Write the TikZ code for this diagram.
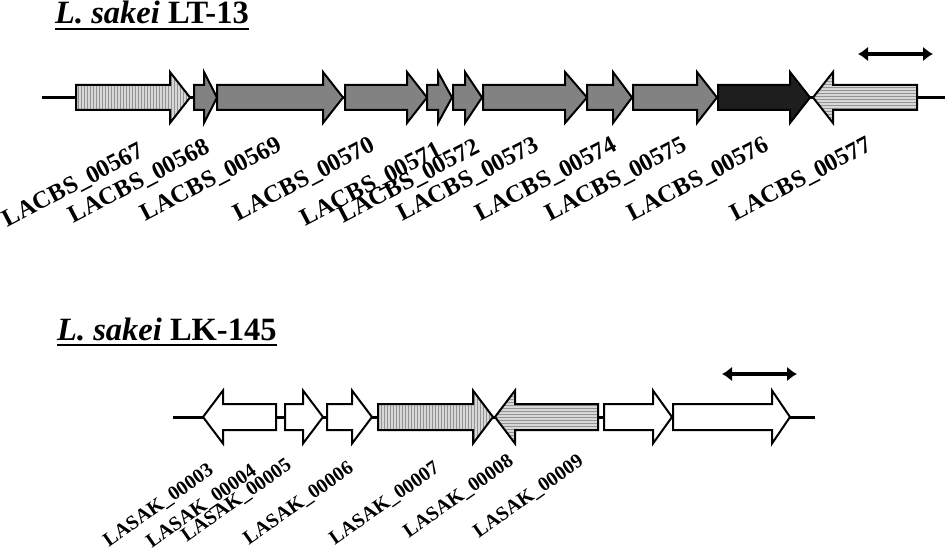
\documentclass[tikz,border=0pt]{standalone}
\usepackage{fontspec}
\setmainfont{Liberation Serif}
\usetikzlibrary{patterns,arrows.meta}
\definecolor{midgray}{RGB}{130,130,130}
\definecolor{darkgene}{RGB}{30,30,30}
\definecolor{lightgene}{RGB}{215,215,215}
\newcommand{\yc}{0}
\newcommand{\bh}{0}
\newcommand{\hh}{0}
\newcommand{\rgene}[5]{%
  \draw[gene,#2] (#3,\yc-\bh) -- (#4,\yc-\bh) -- (#4,\yc-\hh) -- (#5,\yc) -- (#4,\yc+\hh) -- (#4,\yc+\bh) -- (#3,\yc+\bh) -- cycle;
  \coordinate (#1) at ({(#3+#5)/2},\yc);}
\newcommand{\lgene}[5]{%
  \draw[gene,#2] (#3,\yc) -- (#4,\yc-\hh) -- (#4,\yc-\bh) -- (#5,\yc-\bh) -- (#5,\yc+\bh) -- (#4,\yc+\bh) -- (#4,\yc+\hh) -- cycle;
  \coordinate (#1) at ({(#3+#5)/2},\yc);}
\begin{document}
\begin{tikzpicture}[x=1pt,y=-1pt,
  gene/.style={draw=black,line width=2pt,line join=miter,fill=white},
  vfill/.style={preaction={fill=lightgene},pattern=vertical lines,pattern color=gray!85},
  hfill/.style={preaction={fill=lightgene},pattern=horizontal lines,pattern color=gray!85},
  midfill/.style={fill=midgray},
  darkfill/.style={fill=darkgene},
  plain/.style={fill=white},
  backbone/.style={line width=3pt},
  span/.style={line width=3.5pt,{Latex[length=10pt,width=15pt]}-{Latex[length=10pt,width=15pt]}},
  lab1/.style={anchor=north east,rotate=27.5,inner sep=0pt,font=\fontsize{24.5}{28}\selectfont\bfseries},
  lab2/.style={anchor=north east,rotate=35,inner sep=0pt,font=\fontsize{20}{24}\selectfont\bfseries},
  ttl/.style={anchor=base west,inner sep=0pt,font=\fontsize{32.5}{36}\selectfont\bfseries}
]
\useasboundingbox (0,0) rectangle (950,559);

% ---------- Track 1 ----------
\node[ttl] (t1) at (55,24) {\textit{L. sakei} LT-13};
\draw[line width=1.6pt] ([yshift=-5pt]t1.base west) -- ([yshift=-5pt]t1.base east);

\coordinate (b1s) at (42,97.5);
\coordinate (b1e) at (945,97.5);
\draw[backbone] (b1s) -- (b1e);

\renewcommand{\yc}{97.5}\renewcommand{\bh}{12.5}\renewcommand{\hh}{25.5}
\rgene{g567}{vfill}{76}{170}{190}
\rgene{g568}{midfill}{194}{204}{217}
\rgene{g569}{midfill}{217}{323}{343}
\rgene{g570}{midfill}{345}{407}{427}
\rgene{g571}{midfill}{427}{438}{452}
\rgene{g572}{midfill}{453}{465}{482}
\rgene{g573}{midfill}{483}{565}{587}
\rgene{g574}{midfill}{587}{613}{632}
\rgene{g575}{midfill}{633}{697}{717}
\rgene{g576}{darkfill}{718}{790}{810}
\lgene{g577}{hfill}{813}{833}{917}

\coordinate (s1a) at (858,54);
\coordinate (s1b) at (933,54);
\draw[span] (s1a) -- (s1b);

\node[lab1] (l567) at (138,141) {LACBS\_00567};
\node[lab1] (l568) at (204,137) {LACBS\_00568};
\node[lab1] (l569) at (276,135) {LACBS\_00569};
\node[lab1] (l570) at (369,135) {LACBS\_00570};
\node[lab1] (l571) at (436,140) {LACBS\_00571};
\node[lab1] (l572) at (474,137) {LACBS\_00572};
\node[lab1] (l573) at (533,135) {LACBS\_00573};
\node[lab1] (l574) at (611,135) {LACBS\_00574};
\node[lab1] (l575) at (681,135) {LACBS\_00575};
\node[lab1] (l576) at (763,135) {LACBS\_00576};
\node[lab1] (l577) at (866,135) {LACBS\_00577};

% ---------- Track 2 ----------
\node[ttl] (t2) at (57,340) {\textit{L. sakei} LK-145};
\draw[line width=1.6pt] ([yshift=-5pt]t2.base west) -- ([yshift=-5pt]t2.base east);

\coordinate (b2s) at (173,417);
\coordinate (b2e) at (815,417);
\draw[backbone] (b2s) -- (b2e);

\renewcommand{\yc}{417}\renewcommand{\bh}{13}\renewcommand{\hh}{26.5}
\lgene{k003}{plain}{203}{223}{276}
\rgene{k004}{plain}{285}{303}{323}
\rgene{k005}{plain}{327}{352}{372}
\rgene{k006}{vfill}{378}{473}{493}
\lgene{k007}{hfill}{495}{515}{598}
\rgene{k008}{plain}{604}{653}{672}
\rgene{k009}{plain}{673}{772}{790}

\coordinate (s2a) at (722,374);
\coordinate (s2b) at (797,374);
\draw[span] (s2a) -- (s2b);

\node[lab2] (m003) at (207,462) {LASAK\_00003};
\node[lab2] (m004) at (250,463) {LASAK\_00004};
\node[lab2] (m005) at (285,457) {LASAK\_00005};
\node[lab2] (m006) at (347,460) {LASAK\_00006};
\node[lab2] (m007) at (433,460) {LASAK\_00007};
\node[lab2] (m008) at (507,453) {LASAK\_00008};
\node[lab2] (m009) at (577,453) {LASAK\_00009};
\end{tikzpicture}
\end{document}
